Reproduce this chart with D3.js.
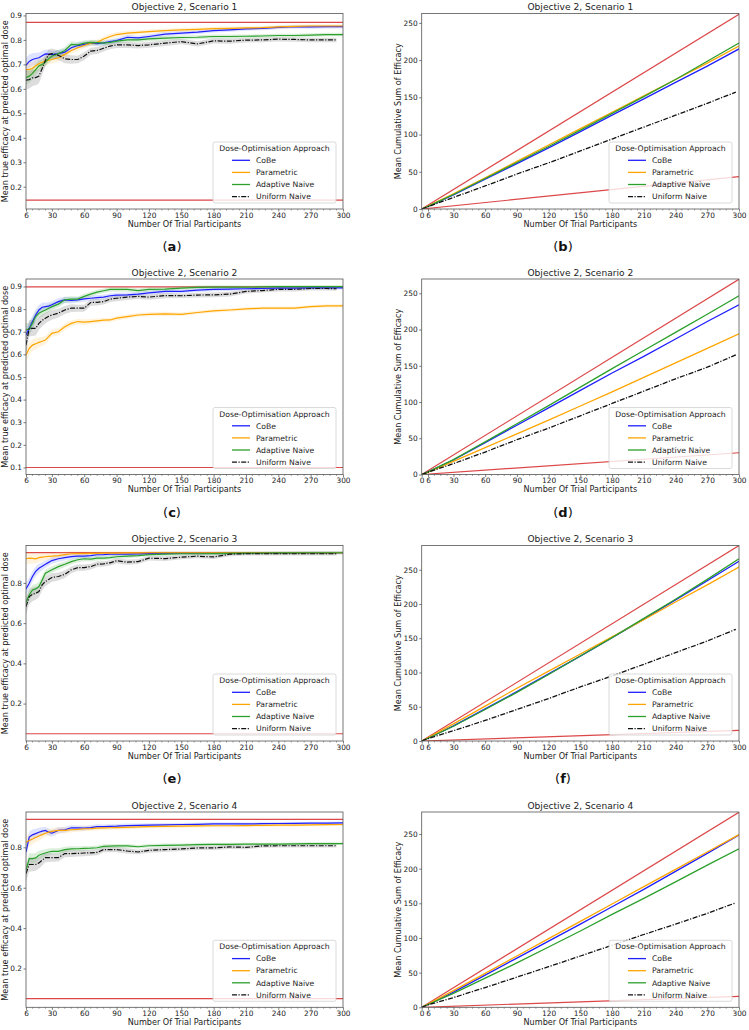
<!DOCTYPE html>
<html><head><meta charset="utf-8">
<script src="https://cdn.jsdelivr.net/npm/d3@7"></script>
<style>body{margin:0;background:#fff}svg{display:block}text{font-family:"DejaVu Sans",sans-serif}</style>
</head><body><svg id="c" width="749" height="1030"></svg>
<script>
// ---------- DATA ----------
const seriesNames = ["CoBe", "Parametric", "Adaptive Naive", "Uniform Naive"];
const xs = [6,9,12,15,18,21,24,27,30,36,42,48,54,60,66,72,78,84,90,100,110,120,135,150,165,180,195,210,225,240,255,270,285,300];
const xsUniform = [6,9,12,15,18,21,24,27,30,36,42,48,54,60,66,72,78,84,90,100,110,120,135,150,165,180,195,210,225,240,255,270,285,294];
const xsCum = [0,6,30,60,90,120,150,180,210,240,270,300];
const xsCumUniform = [0,6,30,60,90,120,150,180,210,240,270,297];
const xTicksLeft = [6,30,60,90,120,150,180,210,240,270,300];
const xTicksRight = [0,6,30,60,90,120,150,180,210,240,270,300];
const yTicksA = [0.2,0.3,0.4,0.5,0.6,0.7,0.8,0.9];
const yTicksC = [0.1,0.2,0.3,0.4,0.5,0.6,0.7,0.8,0.9];
const yTicksE = [0.2,0.4,0.6,0.8];
const yTicksCum = [0,50,100,150,200,250];

// Scenario 1 – efficacy at predicted optimal dose
const s1CoBe = [0.696,0.712,0.72,0.724,0.727,0.735,0.743,0.742,0.74,0.744,0.75,0.768,0.777,0.782,0.787,0.785,0.788,0.793,0.797,0.811,0.808,0.814,0.824,0.828,0.832,0.838,0.841,0.845,0.847,0.851,0.854,0.853,0.854,0.854];
const s1Param = [0.679,0.68,0.683,0.695,0.703,0.709,0.714,0.717,0.72,0.727,0.741,0.757,0.768,0.777,0.787,0.79,0.804,0.814,0.822,0.828,0.831,0.834,0.838,0.841,0.843,0.846,0.847,0.849,0.85,0.853,0.855,0.857,0.857,0.857];
const s1Adapt = [0.646,0.652,0.663,0.679,0.694,0.70,0.71,0.723,0.733,0.744,0.757,0.782,0.78,0.787,0.79,0.789,0.787,0.79,0.795,0.80,0.80,0.804,0.807,0.81,0.811,0.814,0.814,0.815,0.816,0.818,0.818,0.82,0.822,0.822];
const s1Unif = [0.636,0.638,0.645,0.646,0.652,0.683,0.717,0.74,0.744,0.737,0.723,0.72,0.72,0.734,0.754,0.757,0.766,0.775,0.78,0.78,0.777,0.78,0.787,0.793,0.784,0.796,0.795,0.799,0.80,0.803,0.802,0.80,0.80,0.80];
const s1Ref = [0.872, 0.145];

// Scenario 2
const s2CoBe = [0.686,0.715,0.745,0.774,0.796,0.808,0.811,0.813,0.819,0.833,0.841,0.838,0.841,0.845,0.848,0.851,0.853,0.859,0.862,0.863,0.866,0.872,0.878,0.878,0.884,0.887,0.888,0.89,0.891,0.893,0.893,0.894,0.894,0.894];
const s2Param = [0.597,0.626,0.641,0.647,0.653,0.658,0.663,0.678,0.693,0.70,0.722,0.737,0.745,0.742,0.745,0.748,0.751,0.752,0.76,0.767,0.774,0.777,0.779,0.777,0.785,0.792,0.796,0.801,0.804,0.804,0.804,0.811,0.814,0.814];
const s2Adapt = [0.708,0.712,0.737,0.767,0.782,0.789,0.796,0.804,0.811,0.822,0.841,0.844,0.844,0.856,0.866,0.875,0.881,0.887,0.887,0.887,0.882,0.887,0.888,0.893,0.896,0.897,0.897,0.897,0.898,0.899,0.899,0.899,0.899,0.899];
const s2Unif = [0.641,0.715,0.715,0.715,0.737,0.75,0.76,0.768,0.774,0.782,0.796,0.804,0.804,0.804,0.829,0.83,0.833,0.844,0.848,0.853,0.856,0.853,0.86,0.859,0.862,0.863,0.866,0.878,0.882,0.887,0.887,0.891,0.891,0.89];
const s2Ref = [0.898, 0.10];

// Scenario 3
const s3CoBe = [0.77,0.798,0.832,0.857,0.873,0.883,0.893,0.902,0.911,0.92,0.926,0.931,0.933,0.933,0.936,0.94,0.941,0.943,0.943,0.943,0.944,0.946,0.947,0.948,0.948,0.948,0.948,0.948,0.949,0.949,0.95,0.95,0.95,0.95];
const s3Param = [0.92,0.923,0.922,0.92,0.926,0.928,0.93,0.932,0.933,0.936,0.941,0.945,0.946,0.946,0.947,0.947,0.948,0.948,0.948,0.949,0.949,0.95,0.95,0.95,0.95,0.95,0.95,0.95,0.95,0.95,0.95,0.95,0.95,0.95];
const s3Adapt = [0.704,0.74,0.765,0.77,0.782,0.815,0.848,0.857,0.865,0.881,0.893,0.906,0.915,0.92,0.918,0.923,0.923,0.926,0.93,0.933,0.936,0.941,0.943,0.945,0.945,0.946,0.947,0.948,0.948,0.949,0.949,0.95,0.95,0.95];
const s3Unif = [0.682,0.732,0.743,0.748,0.757,0.79,0.807,0.817,0.827,0.832,0.843,0.865,0.876,0.876,0.881,0.893,0.895,0.90,0.91,0.903,0.906,0.923,0.921,0.928,0.933,0.929,0.943,0.945,0.945,0.945,0.945,0.945,0.945,0.945];
const s3Ref = [0.951, 0.05];

// Scenario 4
const s4CoBe = [0.777,0.851,0.862,0.868,0.875,0.88,0.884,0.875,0.87,0.884,0.887,0.897,0.896,0.895,0.898,0.903,0.903,0.904,0.905,0.908,0.909,0.91,0.911,0.913,0.914,0.916,0.916,0.916,0.917,0.918,0.919,0.92,0.92,0.921];
const s4Param = [0.826,0.834,0.841,0.849,0.856,0.863,0.87,0.875,0.879,0.884,0.884,0.887,0.889,0.892,0.893,0.895,0.896,0.897,0.898,0.899,0.901,0.903,0.904,0.905,0.906,0.907,0.907,0.908,0.909,0.91,0.91,0.911,0.912,0.913];
const s4Adapt = [0.687,0.744,0.744,0.748,0.761,0.767,0.772,0.777,0.78,0.78,0.789,0.792,0.793,0.795,0.796,0.798,0.805,0.806,0.807,0.807,0.803,0.808,0.81,0.811,0.813,0.815,0.815,0.816,0.816,0.816,0.817,0.818,0.818,0.818];
const s4Unif = [0.67,0.715,0.715,0.715,0.723,0.736,0.749,0.749,0.749,0.749,0.769,0.769,0.77,0.772,0.773,0.775,0.789,0.789,0.789,0.782,0.777,0.785,0.789,0.792,0.797,0.797,0.802,0.80,0.807,0.808,0.808,0.808,0.808,0.808];
const s4Ref = [0.938, 0.051];

// half-width of the shaded uncertainty bands
const bandHalf = [0.03,0.028,0.026,0.024,0.022,0.02,0.018,0.017,0.016,0.015,0.014,0.013,0.012,0.012,0.011,0.011,0.01,0.01,0.01,0.01,0.009,0.009,0.009,0.008,0.008,0.008,0.008,0.007,0.007,0.007,0.007,0.007,0.007,0.007];

// Cumulative sums of efficacy
const c1CoBe = [0,3.5,19,40,61,82,104,126,148,170,192,215];
const c1Param = [0,3.8,20.5,42,64,86,108,130,152,174,196,219];
const c1Adapt = [0,3.6,19.5,41,62.5,84,106,128.5,151,174,198.5,223];
const c1Unif = [0,3.2,15.5,31,47,62,78,94,110,126,142,157];
const c1Ref = [261.6, 43.5];

const c2CoBe = [0,3.6,20,44,68,92,116,140,163,187,211,234];
const c2Param = [0,3.4,18,37,56,75,94.5,114,134,154,174,194];
const c2Adapt = [0,3.6,20.5,45,70,95,120.5,146,171,196,221,246.5];
const c2Unif = [0,3.2,15,31,48,64,81,98,115,132,148,165];
const c2Ref = [269.4, 30];

const c3CoBe = [0,4,22,47,72,98,124,151,178,206,234,262.5];
const c3Param = [0,4.5,25,51,77,102,127,152,177,203,228,254];
const c3Adapt = [0,4,21.5,46,71,97,124,151,179,207,236,266];
const c3Unif = [0,3.6,15,30,46,62,79,95,112,129,146,163];
const c3Ref = [285.3, 15.5];

const c4CoBe = [0,4,22,46.5,71,95.5,120,145,170,196,222,248.5];
const c4Param = [0,4.5,24,49,74,99,124,149,174,199,224,249];
const c4Adapt = [0,4,20,42,64,87,110,134,157,181,205,228.5];
const c4Unif = [0,3.5,14,28.5,43.5,58.5,74,89.5,105,120,135.5,150.7];
const c4Ref = [281.4, 15.8];

// ---------- STYLE / LAYOUT ----------
const colors = ["#1f1fff", "#ffa500", "#2ca02c", "#111"];
const bandColors = ["#3b5bff", "#ffb733", "#2ca02c", "#777"];
const svg = d3.select("#c");
const rowTop = [13.5, 279, 545.5, 812];
const rowBot = [209, 474.5, 741, 1007.3];
const leftX = [26, 343], rightX = [421.7, 739];
const fsTick = 7.4, fsLab = 8.1, fsLeg = 7.7, fsTitle = 9.1;

function legend(g, x1, yb) {
  const w = 123, h = 61, x0 = x1 - 7 - w, y0 = yb - 6 - h;
  const L = g.append("g").attr("transform", `translate(${x0},${y0})`);
  L.append("rect").attr("width", w).attr("height", h).attr("rx", 2)
    .attr("fill", "#fff").attr("fill-opacity", 0.8).attr("stroke", "#d0d0d0").attr("stroke-width", 0.8);
  L.append("text").attr("x", w / 2).attr("y", 9.2).attr("text-anchor", "middle")
    .attr("font-size", fsLeg).attr("fill", "#222").text("Dose-Optimisation Approach");
  seriesNames.forEach((n, i) => {
    const yy = 18.3 + i * 12.1;
    L.append("line").attr("x1", 19).attr("x2", 37).attr("y1", yy).attr("y2", yy)
      .attr("stroke", colors[i]).attr("stroke-width", 1.3)
      .attr("stroke-dasharray", i === 3 ? "5,1.5,1.2,1.5" : null);
    L.append("text").attr("x", 43).attr("y", yy + 2.8).attr("font-size", fsLeg).attr("fill", "#222").text(n);
  });
}

function frame(g, x, y, xTicks, yTicks, yFmt, title, ylab, ylabX) {
  const [x0, x1] = x.range(), [y1, y0] = y.range();
  g.append("g").selectAll("line").data(d3.range(0, 301, 6).filter(v => v >= x.domain()[0] && !xTicks.includes(v)))
    .join("line").attr("x1", d => x(d)).attr("x2", d => x(d)).attr("y1", y1).attr("y2", y1 + 1.5)
    .attr("stroke", "#444").attr("stroke-width", 0.5);
  const xa = g.append("g").attr("transform", `translate(0,${y1})`)
    .call(d3.axisBottom(x).tickValues(xTicks).tickSize(2.5).tickPadding(1).tickFormat(d3.format("d")));
  const ya = g.append("g").attr("transform", `translate(${x0},0)`)
    .call(d3.axisLeft(y).tickValues(yTicks).tickSize(2.5).tickPadding(1.5).tickFormat(yFmt));
  [xa, ya].forEach(a => {
    a.select(".domain").remove();
    a.selectAll(".tick line").attr("stroke", "#444").attr("stroke-width", 0.7);
    a.selectAll("text").attr("font-size", fsTick).attr("fill", "#222").attr("font-family", '"DejaVu Sans",sans-serif');
  });
  g.append("rect").attr("x", x0).attr("y", y0).attr("width", x1 - x0).attr("height", y1 - y0)
    .attr("fill", "none").attr("stroke", "#555").attr("stroke-width", 0.8);
  g.append("text").attr("x", (x0 + x1) / 2).attr("y", y0 - 3.2).attr("text-anchor", "middle")
    .attr("font-size", fsTitle).attr("fill", "#222").text(title);
  g.append("text").attr("x", (x0 + x1) / 2).attr("y", y1 + 17.5).attr("text-anchor", "middle")
    .attr("font-size", fsLab).attr("fill", "#222").text("Number Of Trial Participants");
  g.append("text").attr("transform", `translate(${ylabX},${(y0 + y1) / 2}) rotate(-90)`)
    .attr("text-anchor", "middle").attr("font-size", fsLab).attr("fill", "#222").text(ylab);
}

const leftPanels = [
  { s: [s1CoBe, s1Param, s1Adapt, s1Unif], ref: s1Ref, dom: [0.109, 0.908], ticks: yTicksA, title: "Objective 2, Scenario 1" },
  { s: [s2CoBe, s2Param, s2Adapt, s2Unif], ref: s2Ref, dom: [0.069, 0.933], ticks: yTicksC, title: "Objective 2, Scenario 2" },
  { s: [s3CoBe, s3Param, s3Adapt, s3Unif], ref: s3Ref, dom: [0.014, 0.986], ticks: yTicksE, title: "Objective 2, Scenario 3" },
  { s: [s4CoBe, s4Param, s4Adapt, s4Unif], ref: s4Ref, dom: [0.008, 0.975], ticks: yTicksE, title: "Objective 2, Scenario 4" }
];
const rightPanels = [
  { s: [c1CoBe, c1Param, c1Adapt, c1Unif], ref: c1Ref, dom: [0, 262.6] },
  { s: [c2CoBe, c2Param, c2Adapt, c2Unif], ref: c2Ref, dom: [0, 269.7] },
  { s: [c3CoBe, c3Param, c3Adapt, c3Unif], ref: c3Ref, dom: [0, 285.4] },
  { s: [c4CoBe, c4Param, c4Adapt, c4Unif], ref: c4Ref, dom: [0, 281.7] }
];
const subLabels = [["a", "b"], ["c", "d"], ["e", "f"]];

leftPanels.forEach((p, r) => {
  const g = svg.append("g");
  const x = d3.scaleLinear().domain([6, 300]).range(leftX);
  const y = d3.scaleLinear().domain(p.dom).range([rowBot[r], rowTop[r]]);
  const clip = "clipL" + r;
  g.append("clipPath").attr("id", clip).append("rect").attr("x", leftX[0]).attr("y", rowTop[r])
    .attr("width", leftX[1] - leftX[0]).attr("height", rowBot[r] - rowTop[r]);
  const pg = g.append("g").attr("clip-path", `url(#${clip})`);
  p.ref.forEach(v => pg.append("line").attr("x1", x(6)).attr("x2", x(300)).attr("y1", y(v)).attr("y2", y(v))
    .attr("stroke", "#d62728").attr("stroke-width", 1.2).attr("stroke-opacity", 0.85));
  p.s.forEach((vals, i) => {
    const xv = i === 3 ? xsUniform : xs;
    const k = i === 3 ? 1.3 : 1;
    const area = d3.area().x((d, j) => x(xv[j])).y0((d, j) => y(d - bandHalf[j] * k)).y1((d, j) => y(d + bandHalf[j] * k));
    pg.append("path").datum(vals).attr("d", area).attr("fill", bandColors[i]).attr("fill-opacity", i === 3 ? 0.25 : 0.17);
  });
  p.s.forEach((vals, i) => {
    const xv = i === 3 ? xsUniform : xs;
    const line = d3.line().x((d, j) => x(xv[j])).y(d => y(d));
    pg.append("path").datum(vals).attr("d", line).attr("fill", "none").attr("stroke", colors[i])
      .attr("stroke-width", 1.2).attr("stroke-dasharray", i === 3 ? "5,1.5,1.2,1.5" : null);
  });
  frame(g, x, y, xTicksLeft, p.ticks, d3.format(".1f"), p.title, "Mean true efficacy at predicted optimal dose", 8);
  legend(g, leftX[1], rowBot[r]);
});

rightPanels.forEach((p, r) => {
  const g = svg.append("g");
  const x = d3.scaleLinear().domain([0, 300]).range(rightX);
  const y = d3.scaleLinear().domain(p.dom).range([rowBot[r], rowTop[r]]);
  const clip = "clipR" + r;
  g.append("clipPath").attr("id", clip).append("rect").attr("x", rightX[0]).attr("y", rowTop[r])
    .attr("width", rightX[1] - rightX[0]).attr("height", rowBot[r] - rowTop[r]);
  const pg = g.append("g").attr("clip-path", `url(#${clip})`);
  p.ref.forEach(v => pg.append("line").attr("x1", x(0)).attr("x2", x(300)).attr("y1", y(0)).attr("y2", y(v))
    .attr("stroke", "#d62728").attr("stroke-width", 1.2).attr("stroke-opacity", 0.85));
  p.s.forEach((vals, i) => {
    const xv = i === 3 ? xsCumUniform : xsCum;
    const line = d3.line().x((d, j) => x(xv[j])).y(d => y(d));
    pg.append("path").datum(vals).attr("d", line).attr("fill", "none").attr("stroke", colors[i])
      .attr("stroke-width", 1.3).attr("stroke-dasharray", i === 3 ? "5,1.5,1.2,1.5" : null);
  });
  frame(g, x, y, xTicksRight, yTicksCum, d3.format("d"), leftPanels[r].title, "Mean Cumulative Sum of Efficacy", 401);
  legend(g, rightX[1], rowBot[r]);
});

// sub-figure labels (the last row's labels fall outside the picture)
subLabels.forEach((pair, r) => {
  [[172, pair[0]], [563, pair[1]]].forEach(([cx, l]) => {
    const t = svg.append("text").attr("x", cx).attr("y", rowBot[r] + 42).attr("text-anchor", "middle")
      .attr("font-family", '"Liberation Serif",serif').attr("font-size", 13).attr("fill", "#111");
    t.append("tspan").text("(");
    t.append("tspan").attr("font-weight", "bold").text(l);
    t.append("tspan").text(")");
  });
});
</script></body></html>
